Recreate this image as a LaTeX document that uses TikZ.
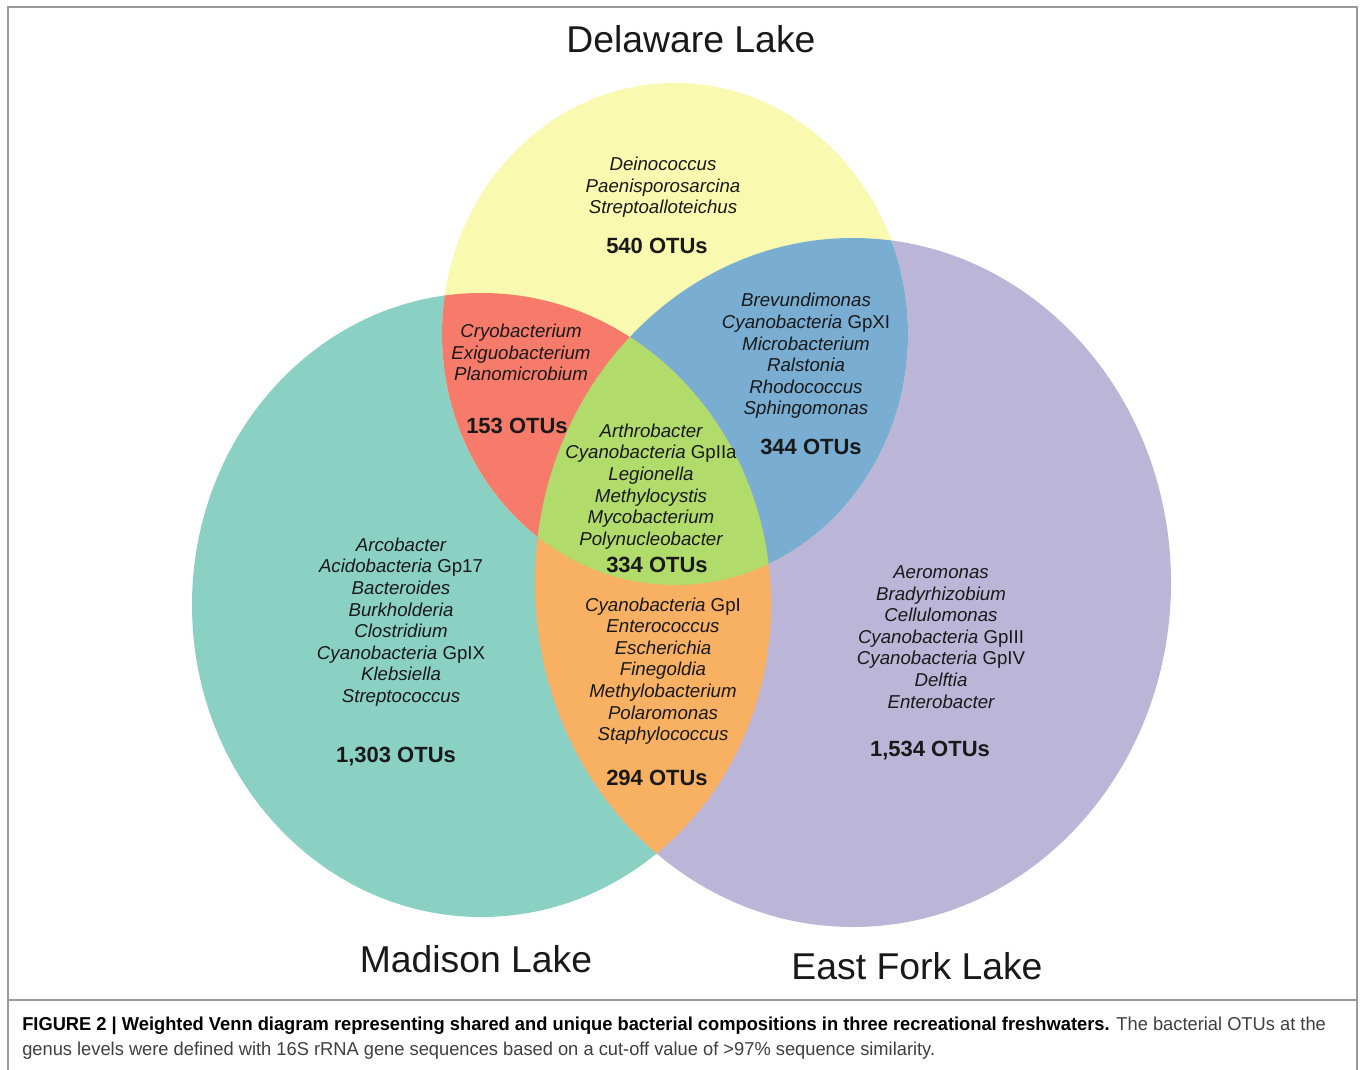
\documentclass[tikz,border=0pt]{standalone}
\usepackage{fontspec}
\setmainfont{Liberation Sans}
\newfontfamily\capfont[FakeStretch=0.98]{Liberation Sans}
\definecolor{cyel}{HTML}{F9F9AF}
\definecolor{cteal}{HTML}{8AD1C4}
\definecolor{cpurp}{HTML}{BBB6D8}
\definecolor{cred}{HTML}{F67B6B}
\definecolor{cblue}{HTML}{7AADD2}
\definecolor{cgreen}{HTML}{B1DB6B}
\definecolor{corange}{HTML}{F8B062}
\definecolor{cframe}{HTML}{9A9A9A}
\begin{document}
\begin{tikzpicture}[x=0.75pt,y=-0.75pt,
  genus/.style={align=center, font=\fontsize{14}{16.2}\selectfont\itshape, inner sep=0pt, text=black!90},
  otu/.style={font=\fontsize{16.5}{19}\selectfont\bfseries, inner sep=0pt, text=black!90},
  lake/.style={font=\fontsize{28}{32}\selectfont, inner sep=0pt, text=black!90},
  captext/.style={anchor=base west, font=\capfont\fontsize{14}{16}\selectfont, inner sep=0pt, text=black!75}]
\useasboundingbox (0,0) rectangle (1360,1070);
\fill[white] (0,0) rectangle (1360,1070);
\def\dela{(675,334) ellipse [x radius=174.75pt, y radius=188.25pt]}
\def\madi{(481.5,605) ellipse [x radius=217.125pt, y radius=234pt]}
\def\east{(853,582.5) ellipse [x radius=238.5pt, y radius=258.375pt]}
% base sets
\fill[cteal] \madi;
\fill[cpurp] \east;
\fill[cyel] \dela;
% pairwise overlaps
\begin{scope}
  \clip \dela;
  \fill[cred] \madi;
  \fill[cblue] \east;
\end{scope}
\begin{scope}
  \clip \madi;
  \fill[corange] \east;
  \clip \dela;
  \fill[cgreen] \east;
\end{scope}
% frame
\draw[cframe, line width=0.8pt] (8,1080) -- (8,7) -- (1357,7) -- (1357,1080);
\draw[cframe, line width=0.8pt] (8,1000) -- (1357,1000);
% lake titles
\node[lake] (tdel) at (691,39) {Delaware Lake};
\node[lake] (tmad) at (476,959) {Madison Lake};
\node[lake] (teas) at (917,966) {East Fork Lake};
% Delaware only
\node[genus] (gdel) at (663,187.5) {Deinococcus\\Paenisporosarcina\\Streptoalloteichus};
\node[otu] (odel) at (657,246) {540 OTUs};
% Delaware & Madison
\node[genus] (gdm) at (521,352.5) {Cryobacterium\\Exiguobacterium\\Planomicrobium};
\node[otu] (odm) at (517,426) {153 OTUs};
% Delaware & East Fork
\node[genus] (gde) at (806,356) {Brevundimonas\\Cyanobacteria {\upshape GpXI}\\Microbacterium\\Ralstonia\\Rhodococcus\\Sphingomonas};
\node[otu] (ode) at (811,447) {344 OTUs};
% all three
\node[genus] (gall) at (651,486.5) {Arthrobacter\\Cyanobacteria {\upshape GpIIa}\\Legionella\\Methylocystis\\Mycobacterium\\Polynucleobacter};
\node[otu] (oall) at (657,565) {334 OTUs};
% Madison & East Fork
\node[genus] (gme) at (663,671) {Cyanobacteria {\upshape GpI}\\Enterococcus\\Escherichia\\Finegoldia\\Methylobacterium\\Polaromonas\\Staphylococcus};
\node[otu] (ome) at (657,778) {294 OTUs};
% Madison only
\node[genus] (gmad) at (401,622) {Arcobacter\\Acidobacteria {\upshape Gp17}\\Bacteroides\\Burkholderia\\Clostridium\\Cyanobacteria {\upshape GpIX}\\Klebsiella\\Streptococcus};
\node[otu] (omad) at (396,757) {1,303 OTUs};
% East Fork only
\node[genus] (geas) at (941,637) {Aeromonas\\Bradyrhizobium\\Cellulomonas\\Cyanobacteria {\upshape GpIII}\\Cyanobacteria {\upshape GpIV}\\Delftia\\Enterobacter};
\node[otu] (oeas) at (930,751) {1,534 OTUs};
% caption
\node[captext] (cap1) at (22,1030) {{\bfseries\color{black}FIGURE 2 | Weighted Venn diagram representing shared and unique bacterial compositions in three recreational freshwaters.} The bacterial OTUs at the};
\node[captext] (cap2) at (22,1055) {genus levels were defined with 16S rRNA gene sequences based on a cut-off value of {>}97\% sequence similarity.};
\end{tikzpicture}
\end{document}
